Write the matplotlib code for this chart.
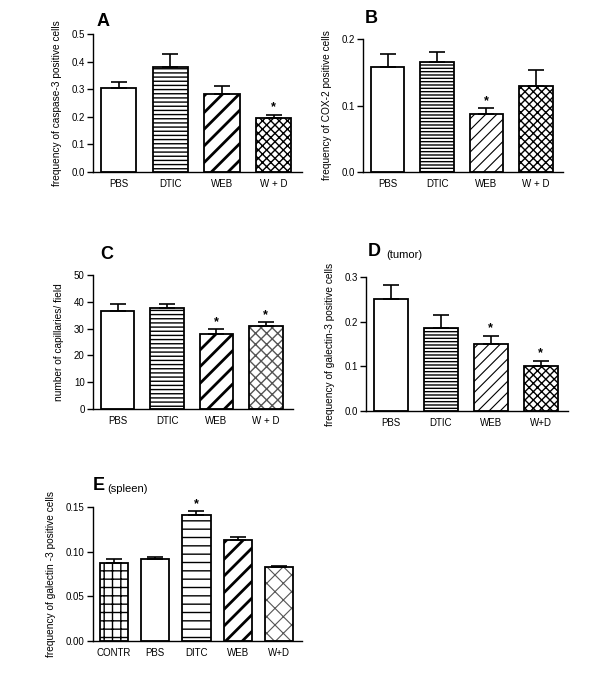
import matplotlib
matplotlib.use("Agg")
import matplotlib.pyplot as plt

plt.rcParams["font.family"] = ["Liberation Sans", "DejaVu Sans"]

# panel A - caspase-3
a_groups = ["PBS", "DTIC", "WEB", "W + D"]
a_mean = [0.304, 0.380, 0.283, 0.194]
a_err = [0.021, 0.047, 0.028, 0.014]
a_sig = [False, False, False, True]

# panel B - COX-2
b_groups = ["PBS", "DTIC", "WEB", "W + D"]
b_mean = [0.158, 0.166, 0.087, 0.130]
b_err = [0.020, 0.015, 0.009, 0.023]
b_sig = [False, False, True, False]

# panel C - capillaries
c_groups = ["PBS", "DTIC", "WEB", "W + D"]
c_mean = [36.6, 37.6, 27.9, 30.8]
c_err = [2.4, 1.4, 1.9, 1.5]
c_sig = [False, False, True, True]

# panel D - galectin-3 tumor
d_groups = ["PBS", "DTIC", "WEB", "W+D"]
d_mean = [0.251, 0.185, 0.149, 0.101]
d_err = [0.032, 0.030, 0.020, 0.012]
d_sig = [False, False, True, True]

# panel E - galectin-3 spleen
e_groups = ["CONTR", "PBS", "DITC", "WEB", "W+D"]
e_mean = [0.0877, 0.0918, 0.1407, 0.1134, 0.0825]
e_err = [0.0041, 0.0022, 0.0044, 0.0030, 0.0018]
e_sig = [False, False, True, False, False]

W = 600.0
H = 675.0


def px_axes(fig, left, right, top, bottom):
    return fig.add_axes([left / W, 1 - bottom / H, (right - left) / W, (bottom - top) / H])


def hatched_bar(ax, x, h, width, hatch, hlw, hcolor="black"):
    old = plt.rcParams["hatch.linewidth"]
    plt.rcParams["hatch.linewidth"] = hlw
    b = ax.bar(x, h, width, color="white", edgecolor=hcolor, hatch=hatch, linewidth=0, zorder=2)
    for p in b:
        if hasattr(p, "set_hatch_linewidth"):
            p.set_hatch_linewidth(hlw)
    plt.rcParams["hatch.linewidth"] = old
    ax.bar(x, h, width, fill=False, edgecolor="black", linewidth=1.3, zorder=3)


def panel(ax, groups, mean, err, sig, hatches, ylim, yticks, yfmt, ylabel, star_pad):
    n = len(groups)
    xs = list(range(n))
    for i in xs:
        hatch, hlw, hcol = hatches[i]
        hatched_bar(ax, i, mean[i], 0.68, hatch, hlw, hcol)
    ax.errorbar(xs, mean, yerr=[[0] * n, err], fmt="none", ecolor="black",
                elinewidth=1.2, capsize=6, capthick=1.2, zorder=4)
    for i in xs:
        if sig[i]:
            ax.text(i, mean[i] + err[i] + star_pad, "*", ha="center", va="bottom",
                    fontsize=9, fontweight="bold")
    ax.set_xlim(-0.5, n - 0.5 + 0.05)
    ax.set_ylim(*ylim)
    ax.set_yticks(yticks)
    ax.set_yticklabels([yfmt.format(v) for v in yticks])
    ax.set_xticks(xs)
    ax.set_xticklabels(groups)
    for s in ["top", "right"]:
        ax.spines[s].set_visible(False)
    for s in ["left", "bottom"]:
        ax.spines[s].set_linewidth(1.0)
    ax.tick_params(axis="x", length=0, pad=5, labelsize=7)
    ax.tick_params(axis="y", length=4, width=1.0, direction="out", pad=2, labelsize=7)
    ax.set_ylabel(ylabel, fontsize=7.3, labelpad=7)


fig = plt.figure(figsize=(6, 6.75), dpi=100)

axA = px_axes(fig, 93, 302, 34, 172)
panel(axA, a_groups, a_mean, a_err, a_sig,
      [("", 1, "black"), ("----", 1.0, "black"), ("//", 2.0, "black"), ("xxxx", 1.0, "black")],
      (0, 0.5), [0.0, 0.1, 0.2, 0.3, 0.4, 0.5], "{:.1f}",
      "frequency of caspase-3 positive cells", 0.004)
axA.text(0.015, 1.03, "A", transform=axA.transAxes, fontsize=13, fontweight="bold", va="bottom")

axB = px_axes(fig, 363, 563, 39, 172)
panel(axB, b_groups, b_mean, b_err, b_sig,
      [("", 1, "black"), ("-----", 1.0, "black"), ("///", 0.8, "black"), ("xxxx", 1.0, "black")],
      (0, 0.2), [0.0, 0.1, 0.2], "{:.1f}",
      "frequency of COX-2 positive cells", 0.002)
axB.text(0.01, 1.09, "B", transform=axB.transAxes, fontsize=13, fontweight="bold", va="bottom")

axC = px_axes(fig, 93, 293, 275, 409)
panel(axC, c_groups, c_mean, c_err, c_sig,
      [("", 1, "black"), ("----", 1.0, "black"), ("//", 2.0, "black"), ("xxx", 1.0, "#555555")],
      (0, 50), [0, 10, 20, 30, 40, 50], "{:d}",
      "number of capillaries/ field", 0.4)
axC.text(0.035, 1.09, "C", transform=axC.transAxes, fontsize=13, fontweight="bold", va="bottom")

axD = px_axes(fig, 366, 568, 277, 411)
panel(axD, d_groups, d_mean, d_err, d_sig,
      [("", 1, "black"), ("-----", 1.0, "black"), ("///", 0.8, "black"), ("xxxx", 1.0, "black")],
      (0, 0.3), [0.0, 0.1, 0.2, 0.3], "{:.1f}",
      "frequency of galectin-3 positive cells", 0.003)
axD.text(0.01, 1.127, "D", transform=axD.transAxes, fontsize=13, fontweight="bold", va="bottom")
axD.text(0.10, 1.127, "(tumor)", transform=axD.transAxes, fontsize=8, va="bottom")

axE = px_axes(fig, 93, 302, 507, 641)
panel(axE, e_groups, e_mean, e_err, e_sig,
      [("++", 1.0, "black"), ("", 1, "black"), ("--", 1.0, "black"), ("//", 2.0, "black"), ("xx", 0.8, "#555555")],
      (0, 0.15), [0.0, 0.05, 0.10, 0.15], "{:.2f}",
      "frequency of galectin -3 positive cells", 0.001)
axE.text(0.0, 1.097, "E", transform=axE.transAxes, fontsize=13, fontweight="bold", va="bottom")
axE.text(0.07, 1.097, "(spleen)", transform=axE.transAxes, fontsize=8, va="bottom")

fig.savefig("out.png", dpi=100)
